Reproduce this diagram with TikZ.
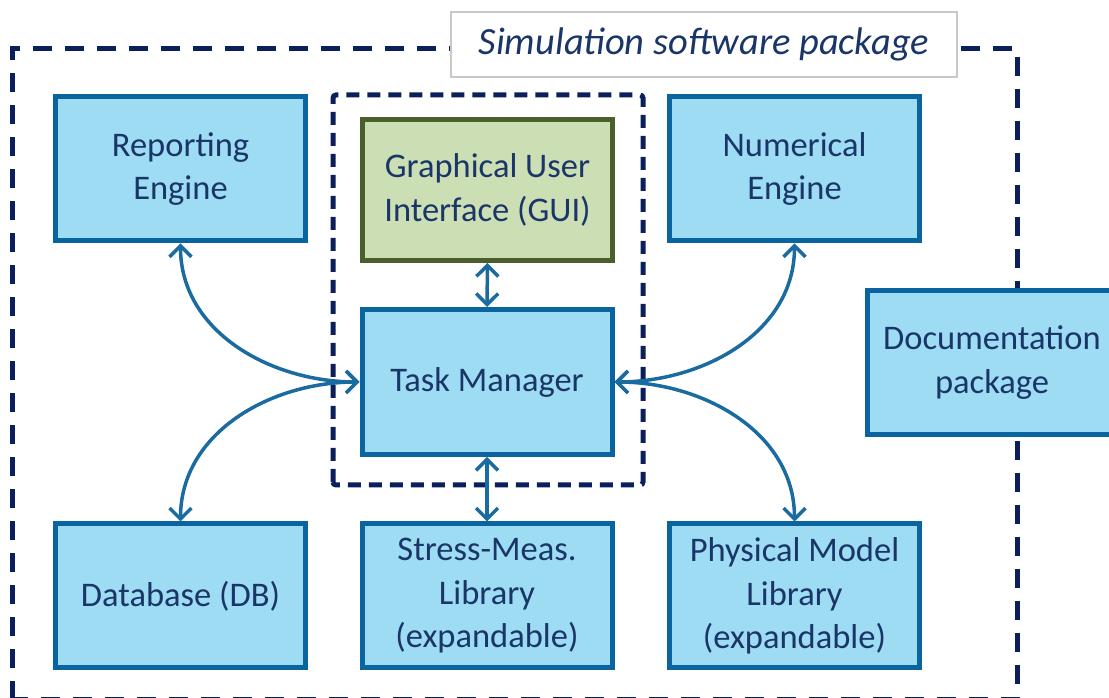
\documentclass[tikz,border=0pt]{standalone}
\usepackage{fontspec}
\setmainfont{Carlito}
\usetikzlibrary{arrows.meta}
\definecolor{boxfill}{HTML}{9DDCF2}
\definecolor{boxline}{HTML}{0A64A0}
\definecolor{txt}{HTML}{1A3567}
\definecolor{guifill}{HTML}{CCDFB4}
\definecolor{guiline}{HTML}{4A5F2A}
\definecolor{navy}{HTML}{0B1F5C}
\definecolor{arr}{HTML}{1A6BA0}
\definecolor{titleline}{HTML}{C8C8C8}
\begin{document}
\begin{tikzpicture}[x=1pt,y=1pt,
 blk/.style={draw=boxline, fill=boxfill, line width=5pt, minimum width=250pt, minimum height=144pt, inner sep=0pt, align=center, text=txt, font=\fontsize{34.5}{43.5}\selectfont},
 gui/.style={blk, draw=guiline, fill=guifill},
 link/.style={draw=arr, line width=3.5pt, {Straight Barb[length=11pt,width=22pt]}-{Straight Barb[length=11pt,width=22pt]}},
 outerdash/.style={draw=navy, line width=5pt, dash pattern=on 19pt off 13pt},
 innerdash/.style={draw=navy, line width=5pt, dash pattern=on 13pt off 8pt, rounded corners=3pt}]
\useasboundingbox (0,0) rectangle (1109,698);
\clip (0,0) rectangle (1109,698);
\draw[outerdash] (12,-2) rectangle (1017,649);
\node[draw=titleline, fill=white, line width=1.5pt, minimum width=506pt, minimum height=65pt, inner sep=0pt, text=txt, font=\fontsize{38.5}{44}\selectfont\itshape] (title) at (704,653.5) {Simulation software package};
\draw[innerdash] (333,213) rectangle (643,603);
\node[blk] (rep) at (180.5,529) {Reporting\\Engine};
\node[gui, minimum height=141pt] (gui) at (487.5,508) {Graphical User\\Interface (GUI)};
\node[blk] (num) at (794.5,529) {Numerical\\Engine};
\node[blk, minimum height=145pt] (task) at (487,316) {Task Manager};
\node[blk] (doc) at (992,335.5) {Documentation\\package};
\node[blk] (db) at (180.5,102) {Database (DB)};
\node[blk] (stress) at (487,102) {Stress-Meas.\\Library\\(expandable)};
\node[blk] (phys) at (794.5,102) {Physical Model\\Library\\(expandable)};
\draw[link] (gui.south) -- (task.north);
\draw[link] (task.south) -- (stress.north);
\draw[link] (rep.south) to[out=-90,in=180] (task.west);
\draw[link] (task.west) to[out=180,in=90] (db.north);
\draw[link] (num.south) to[out=-90,in=0] (task.east);
\draw[link] (task.east) to[out=0,in=90] (phys.north);
\end{tikzpicture}
\end{document}
